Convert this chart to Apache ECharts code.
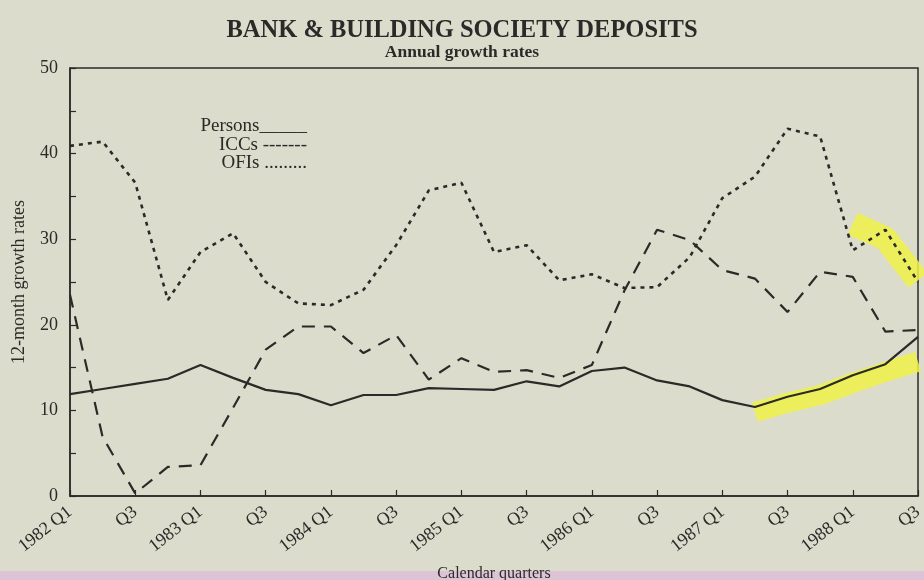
<!DOCTYPE html>
<html>
<head>
<meta charset="utf-8">
<script src="https://cdn.jsdelivr.net/npm/echarts@6/dist/echarts.min.js"></script>
<style>
html,body{margin:0;padding:0;background:#dcdccd;}
#chart{width:924px;height:580px;}
</style>
</head>
<body>
<div id="chart"></div>
<script>
// Quarterly categories 1982 Q1 .. 1988 Q3
const categories = [
  '1982 Q1','Q2','Q3','Q4',
  '1983 Q1','Q2','Q3','Q4',
  '1984 Q1','Q2','Q3','Q4',
  '1985 Q1','Q2','Q3','Q4',
  '1986 Q1','Q2','Q3','Q4',
  '1987 Q1','Q2','Q3','Q4',
  '1988 Q1','Q2','Q3'
];
const persons = [11.9,12.5,13.1,13.7,15.3,13.8,12.4,11.9,10.6,11.8,11.8,12.6,12.5,12.4,13.4,12.8,14.6,15.0,13.5,12.8,11.2,10.4,11.6,12.5,14.1,15.4,18.6];
const iccs    = [23.5,6.9,0.3,3.4,3.6,10.3,17.1,19.8,19.8,16.7,18.8,13.6,16.1,14.5,14.7,13.8,15.3,24.0,31.1,29.9,26.4,25.4,21.5,26.2,25.6,19.2,19.4];
const ofis    = [40.9,41.4,36.6,22.9,28.5,30.7,25.0,22.5,22.3,24.1,29.3,35.7,36.6,28.5,29.3,25.2,25.9,24.3,24.4,27.9,34.8,37.3,42.9,42.0,28.7,31.1,25.0];
// Yellow marker-pen highlights on the scan (centre of band)
const personsHighlight = [null,null,null,null,null,null,null,null,null,null,null,null,null,null,null,null,null,null,null,null,null,9.8,10.9,11.8,13.2,14.5,15.7];
const ofisHighlight    = [null,null,null,null,null,null,null,null,null,null,null,null,null,null,null,null,null,null,null,null,null,null,null,null,31.8,30.1,25.2];
const yTicks = [0,10,20,30,40,50];
const legendLines = ['Persons_____','ICCs -------','OFIs .........'];

const FONT = "'Liberation Serif','Times New Roman',serif";
const INK = '#2a2b28';

const chart = echarts.init(document.getElementById('chart'), null, {renderer:'canvas'});
const option = {
  backgroundColor: '#dcdccd',
  animation: false,
  title: {
    text: 'BANK & BUILDING SOCIETY DEPOSITS',
    subtext: 'Annual growth rates',
    left: 'center', top: 13, itemGap: 0,
    textStyle: {fontFamily: FONT, fontWeight: 'bold', fontSize: 24.5, color: INK},
    subtextStyle: {fontFamily: FONT, fontWeight: 'bold', fontSize: 17.5, color: INK}
  },
  grid: {left: 70, right: 6, top: 68, bottom: 84, show: true, borderColor: INK, borderWidth: 1.5,
         backgroundColor: 'transparent', containLabel: false, outerBoundsMode: 'none'},
  xAxis: {
    type: 'category', data: categories, boundaryGap: false,
    name: 'Calendar quarters', nameLocation: 'middle', nameGap: 70,
    nameTextStyle: {fontFamily: FONT, fontSize: 16, color: INK},
    axisLine: {lineStyle: {color: INK, width: 1.5}},
    axisTick: {inside: true, interval: 1, length: 6, lineStyle: {color: INK, width: 1.2}},
    axisLabel: {interval: 1, rotate: 38, fontFamily: FONT, fontSize: 18, color: INK, margin: 14},
    splitLine: {show: false}
  },
  yAxis: {
    type: 'value', min: 0, max: 50, interval: 5,
    name: '12-month growth rates', nameLocation: 'middle', nameGap: 42, nameRotate: 90,
    nameTextStyle: {fontFamily: FONT, fontSize: 18, color: INK},
    axisLine: {show: true, lineStyle: {color: INK, width: 1.5}},
    axisTick: {show: true, inside: true, length: 6, lineStyle: {color: INK, width: 1.2}},
    axisLabel: {fontFamily: FONT, fontSize: 18, color: INK, margin: 12,
      formatter: v => yTicks.indexOf(v) >= 0 ? String(v) : ''},
    splitLine: {show: false}
  },
  graphic: [
    {type: 'rect', left: 0, top: 571, shape: {width: 924, height: 9}, style: {fill: '#dcc3d6'}, z: -1},
    {type: 'text', right: 924 - 307, top: 117, style: {text: legendLines[0], font: '19px ' + FONT, fill: INK, textAlign: 'right'}},
    {type: 'text', right: 924 - 307, top: 136, style: {text: legendLines[1], font: '19px ' + FONT, fill: INK, textAlign: 'right'}},
    {type: 'text', right: 924 - 307, top: 154, style: {text: legendLines[2], font: '19px ' + FONT, fill: INK, textAlign: 'right'}}
  ],
  series: [
    {name: 'hlP', type: 'line', data: personsHighlight, symbol: 'none', silent: true, z: 1,
     lineStyle: {color: 'rgba(238,242,70,0.85)', width: 20, cap: 'butt'}},
    {name: 'hlO', type: 'line', data: ofisHighlight, symbol: 'none', silent: true, z: 1,
     lineStyle: {color: 'rgba(238,242,70,0.85)', width: 24, cap: 'butt'}},
    {name: 'Persons', type: 'line', data: persons, symbol: 'none', z: 3,
     lineStyle: {color: INK, width: 2.2, type: 'solid'}},
    {name: 'ICCs', type: 'line', data: iccs, symbol: 'none', z: 3,
     lineStyle: {color: INK, width: 2.2, type: [13, 9]}},
    {name: 'OFIs', type: 'line', data: ofis, symbol: 'none', z: 3,
     lineStyle: {color: INK, width: 2.6, type: [4, 5]}}
  ]
};
chart.setOption(option);
</script>
</body>
</html>
